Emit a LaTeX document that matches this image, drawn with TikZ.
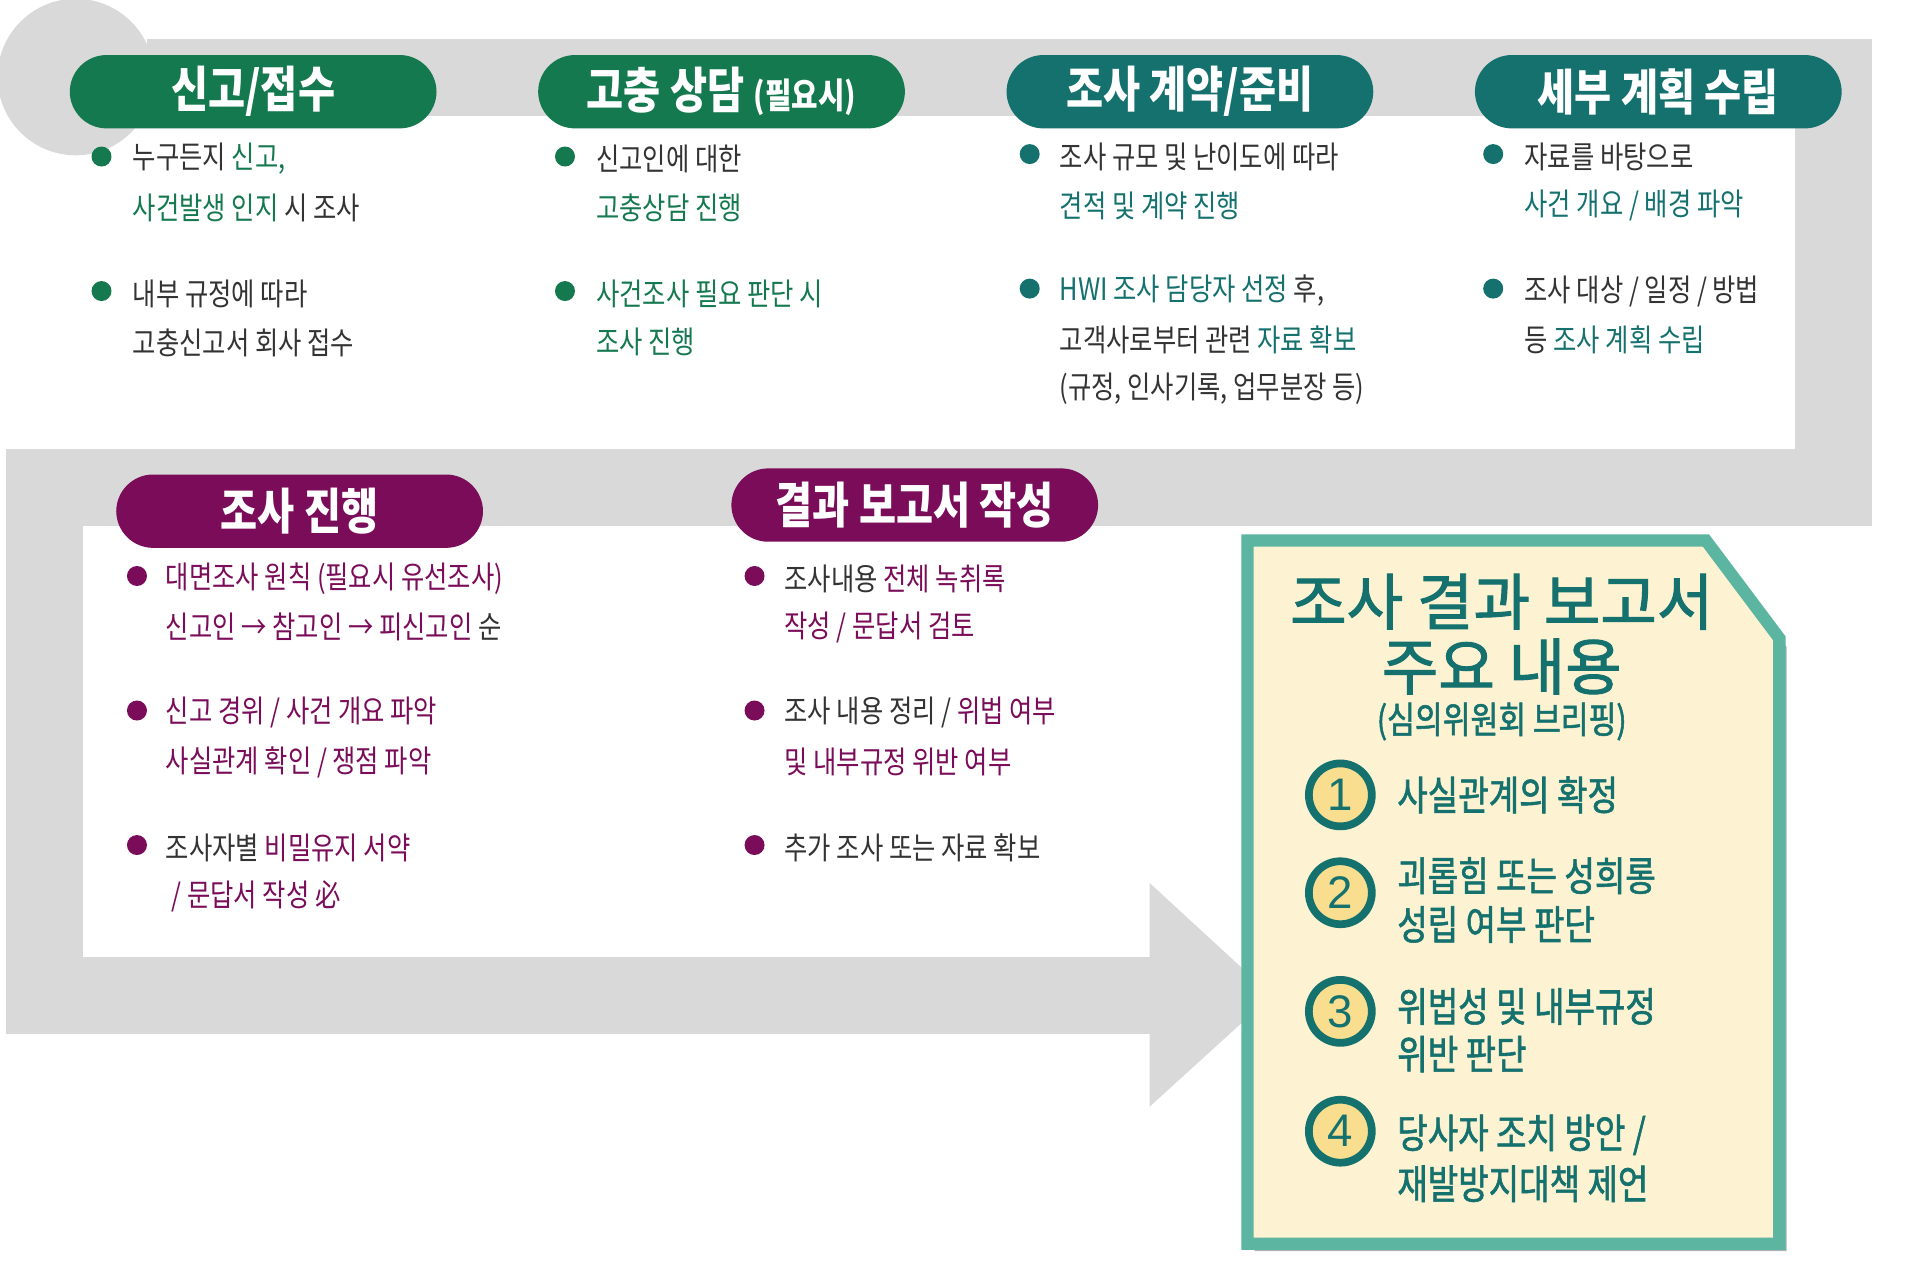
\documentclass[tikz,border=0pt]{standalone}
\usepackage{fontspec}
\setmainfont{Noto Sans CJK KR}
\newfontfamily\krn[FakeStretch=0.82]{Noto Sans CJK KR}
\newfontfamily\krm[FakeBold=1.6]{Noto Sans CJK KR}
\newfontfamily\krmn[FakeStretch=0.82,FakeBold=1.4]{Noto Sans CJK KR}
\newfontfamily\numfont{Liberation Sans}
\usetikzlibrary{positioning}
\definecolor{bandgray}{HTML}{D9D9D9}
\definecolor{mygreen}{HTML}{15794F}
\definecolor{myteal}{HTML}{14716E}
\definecolor{mypurple}{HTML}{7A0C59}
\definecolor{txtgray}{HTML}{333333}
\definecolor{boxfill}{HTML}{FDF2D2}
\definecolor{boxline}{HTML}{5BB5A0}
\definecolor{numfill}{HTML}{F8DE8E}
\newcommand{\hlg}[1]{\textcolor{mygreen}{#1}}
\newcommand{\hlt}[1]{\textcolor{myteal}{#1}}
\newcommand{\hlp}[1]{\textcolor{mypurple}{#1}}
\tikzset{
  pill/.style={fill=#1, text=white, rounded corners=10.5pt, minimum width=3.67cm,
    minimum height=0.734cm, inner sep=0pt, font=\krn\fontsize{14}{14}\selectfont\bfseries},
  dot/.style={circle, fill=#1, inner sep=0pt, minimum size=0.2cm},
  line/.style={anchor=west, inner sep=0pt, text=txtgray, font=\krn\fontsize{8.8}{10}\selectfont},
  num/.style={circle, draw=myteal, line width=2.2pt, fill=numfill, minimum size=0.63cm,
    inner sep=0pt, font=\numfont\fontsize{13}{13}\selectfont, text=myteal},
  item/.style={anchor=west, inner sep=0pt, text=myteal, font=\krmn\fontsize{11.5}{12}\selectfont}
}
\begin{document}
\begin{tikzpicture}[x=0.01223cm, y=-0.01223cm]
    \useasboundingbox (0,0) rectangle (1570,1035);
    \fill[white] (0,0) rectangle (1570,1035);
    % grey path
    \fill[bandgray] (62,63) circle (64);
    \draw[bandgray, line width=0.77cm, line join=miter]
        (120,63) -- (1499,63) -- (1499,399) -- (36,399) -- (36,814) -- (942,814);
    \fill[bandgray] (940,722) -- (1040,814) -- (940,905) -- cycle;

    % top row headers
    \node[pill=mygreen] (h1) at (207,75) {신고/접수};
    \node[pill=mygreen] (h2) at (590,75) {고충 상담 {\fontsize{10}{10}\selectfont(필요시)}};
    \node[pill=myteal]  (h3) at (973,75) {조사 계약/준비};
    \node[pill=myteal]  (h4) at (1356,75) {세부 계획 수립};
    \node[pill=mypurple] (h5) at (245,418) {조사 진행};
    \node[pill=mypurple] (h6) at (748,413) {결과 보고서 작성};

    % column 1
    \node[dot=mygreen] (d11) at (83,128) {};
    \node[line] (t11a) at (108,130) {누구든지 \hlg{신고,}};
    \node[line] (t11b) at (108,170) {\hlg{사건발생 인지} 시 조사};
    \node[dot=mygreen] (d12) at (83,238) {};
    \node[line] (t12a) at (108,240) {내부 규정에 따라};
    \node[line] (t12b) at (108,280) {고충신고서 회사 접수};
    % column 2
    \node[dot=mygreen] (d21) at (462,128) {};
    \node[line] (t21a) at (487,130) {신고인에 대한};
    \node[line] (t21b) at (487,170) {\hlg{고충상담 진행}};
    \node[dot=mygreen] (d22) at (462,238) {};
    \node[line] (t22a) at (487,240) {\hlg{사건조사 필요 판단 시}};
    \node[line] (t22b) at (487,280) {\hlg{조사 진행}};
    % column 3
    \node[dot=myteal] (d31) at (842,126) {};
    \node[line] (t31a) at (866,128) {조사 규모 및 난이도에 따라};
    \node[line] (t31b) at (866,168) {\hlt{견적 및 계약 진행}};
    \node[dot=myteal] (d32) at (842,236) {};
    \node[line] (t32a) at (866,238) {\hlt{HWI 조사 담당자 선정} 후,};
    \node[line] (t32b) at (866,278) {고객사로부터 관련 \hlt{자료 확보}};
    \node[line] (t32c) at (866,318) {(규정, 인사기록, 업무분장 등)};
    % column 4
    \node[dot=myteal] (d41) at (1221,126) {};
    \node[line] (t41a) at (1246,128) {자료를 바탕으로};
    \node[line] (t41b) at (1246,168) {\hlt{사건 개요 / 배경 파악}};
    \node[dot=myteal] (d42) at (1221,236) {};
    \node[line] (t42a) at (1246,238) {조사 대상 / 일정 / 방법};
    \node[line] (t42b) at (1246,278) {등 \hlt{조사 계획 수립}};

    % lower column 1
    \node[dot=mypurple] (d51) at (112,471) {};
    \node[line] (t51a) at (135,473) {\hlp{대면조사 원칙 (필요시 유선조사)}};
    \node[line] (t51b) at (135,513) {\hlp{신고인 → 참고인 → 피신고인} 순};
    \node[dot=mypurple] (d52) at (112,581) {};
    \node[line] (t52a) at (135,583) {\hlp{신고 경위 / 사건 개요 파악}};
    \node[line] (t52b) at (135,623) {\hlp{사실관계 확인 / 쟁점 파악}};
    \node[dot=mypurple] (d53) at (112,691) {};
    \node[line] (t53a) at (135,693) {조사자별 \hlp{비밀유지 서약}};
    \node[line] (t53b) at (135,733) {\hlp{\ / 문답서 작성 必}};
    % lower column 2
    \node[dot=mypurple] (d61) at (617,471) {};
    \node[line] (t61a) at (641,473) {조사내용 \hlp{전체 녹취록}};
    \node[line] (t61b) at (641,513) {\hlp{작성 / 문답서 검토}};
    \node[dot=mypurple] (d62) at (617,581) {};
    \node[line] (t62a) at (641,583) {조사 내용 정리 / \hlp{위법 여부}};
    \node[line] (t62b) at (641,623) {\hlp{및 내부규정 위반 여부}};
    \node[dot=mypurple] (d63) at (617,691) {};
    \node[line] (t63a) at (641,693) {추가 조사 또는 자료 확보};

    % report box
    \fill[black!30] (1026,449) -- (1400,449) -- (1461,529) -- (1461,1023) -- (1026,1023) -- cycle;
    \draw[fill=boxfill, draw=boxline, line width=3.5pt, line join=miter]
        (1020,442) -- (1395,442) -- (1455,522) -- (1455,1017) -- (1020,1017) -- cycle;
    \node[text=myteal, font=\krm\fontsize{17.5}{18}\selectfont] (r1) at (1228,492) {조사 결과 보고서};
    \node[text=myteal, font=\krm\fontsize{17.5}{18}\selectfont] (r2) at (1228,545) {주요 내용};
    \node[text=myteal, font=\krmn\fontsize{10.5}{11}\selectfont] (r3) at (1228,590) {(심의위원회 브리핑)};
    \node[num] (n1) at (1096,650) {1};
    \node[num] (n2) at (1096,730) {2};
    \node[num] (n3) at (1096,827) {3};
    \node[num] (n4) at (1096,925) {4};
    \node[item] (i1) at (1142,650) {사실관계의 확정};
    \node[item] (i2a) at (1142,716) {괴롭힘 또는 성희롱};
    \node[item] (i2b) at (1142,756) {성립 여부 판단};
    \node[item] (i3a) at (1142,823) {위법성 및 내부규정};
    \node[item] (i3b) at (1142,862) {위반 판단};
    \node[item] (i4a) at (1142,928) {당사자 조치 방안 /};
    \node[item] (i4b) at (1142,968) {재발방지대책 제언};
\end{tikzpicture}
\end{document}
